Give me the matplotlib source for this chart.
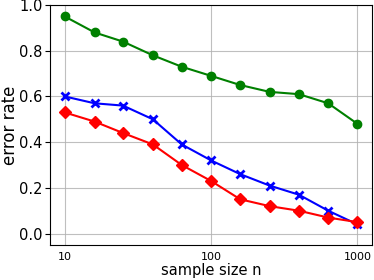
import matplotlib
matplotlib.use("Agg")
import matplotlib.pyplot as plt
from matplotlib.ticker import NullLocator

SAMPLE_SIZES = [10, 16, 25, 40, 63, 100, 158, 251, 398, 631, 1000]
GREEN_ERR = [0.95, 0.88, 0.84, 0.78, 0.73, 0.69, 0.65, 0.62, 0.61, 0.57, 0.48]
BLUE_ERR = [0.60, 0.57, 0.56, 0.50, 0.39, 0.32, 0.26, 0.21, 0.17, 0.10, 0.04]
RED_ERR = [0.53, 0.49, 0.44, 0.39, 0.30, 0.23, 0.15, 0.12, 0.10, 0.07, 0.05]
X_TICKS = [10, 100, 1000]
X_TICK_LABELS = ["10", "100", "1000"]


def main() -> None:
    fig, ax = plt.subplots(figsize=(3.74, 2.8), dpi=100)
    ax.plot(SAMPLE_SIZES, GREEN_ERR, color="green", marker="o", markersize=6, linewidth=1.5)
    ax.plot(SAMPLE_SIZES, BLUE_ERR, color="blue", marker="x", markersize=6, markeredgewidth=2, linewidth=1.5)
    ax.plot(SAMPLE_SIZES, RED_ERR, color="red", marker="D", markersize=6, linewidth=1.5)

    ax.set_xscale("log")
    ax.set_xticks(X_TICKS)
    ax.set_xticklabels(X_TICK_LABELS)
    ax.xaxis.set_minor_locator(NullLocator())
    ax.tick_params(axis="x", labelsize=8, length=0, pad=5)
    ax.tick_params(axis="y", labelsize=10.5, pad=2)
    ax.set_ylim(-0.05, 1.0)
    ax.set_yticks([0.0, 0.2, 0.4, 0.6, 0.8, 1.0])
    ax.grid(True, color="#b0b0b0", linewidth=0.8, alpha=0.8)

    ax.set_xlabel("sample size n", fontsize=10.5, labelpad=1)
    ax.set_ylabel("error rate", fontsize=12)
    ax.yaxis.set_label_coords(-0.096, 0.5)

    fig.subplots_adjust(left=0.134, right=0.995, top=0.982, bottom=0.125)
    fig.savefig("out.png", dpi=100, facecolor="white")
    plt.close(fig)


if __name__ == "__main__":
    main()
